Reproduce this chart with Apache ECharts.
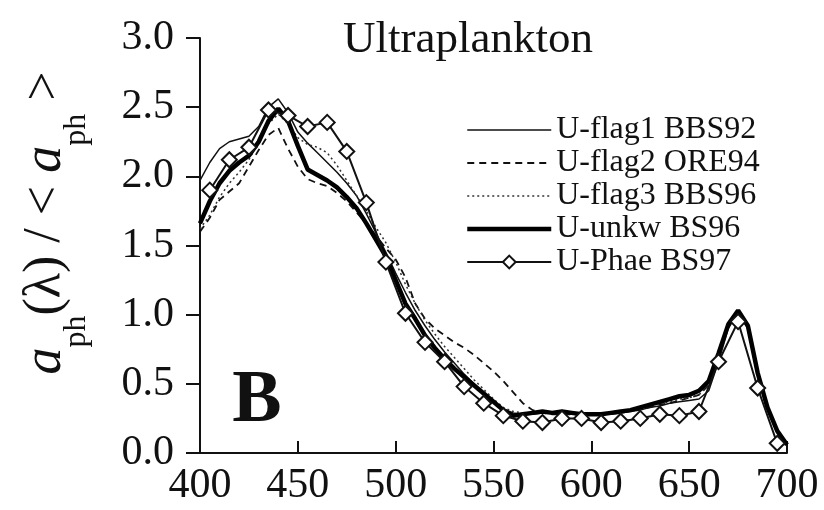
<!DOCTYPE html>
<html>
<head>
<meta charset="utf-8">
<script src="https://cdn.jsdelivr.net/npm/echarts@6/dist/echarts.min.js"></script>
<style>
html,body{margin:0;padding:0;background:#fff;}
#chart{width:824px;height:510px;}
</style>
</head>
<body>
<div id="chart"></div>
<script>
const wavelengths = [400,405,410,415,420,425,430,435,440,445,450,455,460,465,470,475,480,485,490,495,500,505,510,515,520,525,530,535,540,545,550,555,560,565,570,575,580,585,590,595,600,605,610,615,620,625,630,635,640,645,650,655,660,665,670,675,680,685,690,695,700];
const flag1 = [1.97,2.10,2.20,2.25,2.27,2.29,2.36,2.50,2.56,2.46,2.32,2.24,2.17,2.10,2.03,1.95,1.86,1.73,1.59,1.45,1.30,1.16,1.03,0.92,0.82,0.73,0.65,0.57,0.50,0.43,0.37,0.32,0.29,0.28,0.28,0.29,0.29,0.29,0.28,0.28,0.28,0.28,0.28,0.29,0.30,0.31,0.33,0.34,0.36,0.37,0.38,0.39,0.45,0.66,0.90,1.02,0.93,0.60,0.34,0.17,0.07];
const flag2 = [1.60,1.70,1.83,1.89,1.95,2.07,2.19,2.30,2.35,2.20,2.07,1.98,1.95,1.93,1.88,1.82,1.74,1.66,1.57,1.48,1.40,1.27,1.08,0.97,0.90,0.85,0.80,0.76,0.71,0.65,0.59,0.52,0.44,0.36,0.31,0.29,0.28,0.28,0.28,0.28,0.28,0.28,0.29,0.30,0.31,0.32,0.33,0.35,0.36,0.38,0.40,0.42,0.49,0.70,0.93,1.02,0.90,0.56,0.32,0.15,0.06];
const flag3 = [1.62,1.72,1.85,1.95,2.03,2.12,2.25,2.38,2.45,2.38,2.28,2.23,2.21,2.17,2.08,1.97,1.86,1.75,1.63,1.52,1.38,1.22,1.08,0.96,0.86,0.77,0.69,0.61,0.53,0.46,0.39,0.33,0.30,0.29,0.29,0.29,0.29,0.29,0.28,0.28,0.28,0.28,0.29,0.30,0.31,0.32,0.34,0.36,0.37,0.39,0.40,0.42,0.50,0.70,0.92,1.01,0.90,0.57,0.33,0.16,0.06];
const unkw = [1.66,1.82,1.95,2.04,2.10,2.15,2.25,2.40,2.49,2.40,2.22,2.05,2.01,1.97,1.92,1.85,1.77,1.66,1.54,1.42,1.25,1.08,0.97,0.85,0.76,0.68,0.61,0.55,0.49,0.43,0.37,0.31,0.27,0.28,0.29,0.30,0.29,0.30,0.29,0.28,0.28,0.28,0.29,0.30,0.31,0.33,0.35,0.37,0.39,0.41,0.42,0.45,0.52,0.72,0.93,1.03,0.92,0.58,0.33,0.16,0.06];
const phaeWavelengths = [405,415,425,435,445,455,465,475,485,495,505,515,525,535,545,555,565,575,585,595,605,615,625,635,645,655,665,675,685,695];
const phae = [1.90,2.12,2.21,2.48,2.44,2.36,2.39,2.18,1.81,1.38,1.01,0.80,0.66,0.48,0.36,0.27,0.23,0.22,0.25,0.25,0.22,0.23,0.25,0.28,0.27,0.30,0.66,0.95,0.47,0.07];
const seriesNames = ['U-flag1 BBS92','U-flag2 ORE94','U-flag3 BBS96','U-unkw BS96','U-Phae BS97'];
const titleText = 'Ultraplankton';
const panelLetter = 'B';

const pair = (xs, ys) => xs.map((x, i) => [x, ys[i]]);
const FONT = 'Liberation Serif';
const hiddenSymbol = {color: 'rgba(0,0,0,0)', borderColor: 'rgba(0,0,0,0)', borderWidth: 0};

const chart = echarts.init(document.getElementById('chart'), null, {renderer: 'canvas'});
chart.setOption({
  animation: false,
  backgroundColor: '#fff',
  grid: {left: 200, right: 37, top: 38, bottom: 57, containLabel: false},
  xAxis: {
    type: 'value', min: 400, max: 700, interval: 50,
    axisLine: {show: true, lineStyle: {color: '#111', width: 2}},
    axisTick: {show: true, inside: true, length: 12, lineStyle: {color: '#111', width: 2}},
    axisLabel: {color: '#111', fontFamily: FONT, fontSize: 42, margin: 12},
    splitLine: {show: false}
  },
  yAxis: {
    type: 'value', min: 0, max: 3, interval: 0.5,
    axisLine: {show: true, lineStyle: {color: '#111', width: 2}},
    axisTick: {show: true, inside: false, length: 14, lineStyle: {color: '#111', width: 2}},
    axisLabel: {color: '#111', fontFamily: FONT, fontSize: 42, margin: 26, formatter: v => v.toFixed(1)},
    splitLine: {show: false}
  },
  legend: {
    orient: 'vertical', left: 460, top: 109,
    itemWidth: 84, itemHeight: 16, itemGap: 1,
    textStyle: {color: '#111', fontFamily: FONT, fontSize: 32, lineHeight: 32},
    data: [
      {name: seriesNames[0], itemStyle: hiddenSymbol, lineStyle: {width: 1.5}},
      {name: seriesNames[1], itemStyle: hiddenSymbol, lineStyle: {width: 1.8}},
      {name: seriesNames[2], itemStyle: hiddenSymbol, lineStyle: {width: 1.5}},
      {name: seriesNames[3], itemStyle: hiddenSymbol, lineStyle: {width: 4.5}},
      {name: seriesNames[4], lineStyle: {width: 2}}
    ]
  },
  series: [
    {name: seriesNames[0], type: 'line', symbol: 'none', data: pair(wavelengths, flag1),
     itemStyle: {color: '#111'}, lineStyle: {color: '#111', width: 1.5}, z: 2},
    {name: seriesNames[1], type: 'line', symbol: 'none', data: pair(wavelengths, flag2),
     itemStyle: {color: '#111'}, lineStyle: {color: '#111', width: 1.8, type: [7, 5]}, z: 2},
    {name: seriesNames[2], type: 'line', symbol: 'none', data: pair(wavelengths, flag3),
     itemStyle: {color: '#333'}, lineStyle: {color: '#333', width: 1.5, type: [2, 3]}, z: 2},
    {name: seriesNames[3], type: 'line', symbol: 'none', data: pair(wavelengths, unkw),
     itemStyle: {color: '#000'}, lineStyle: {color: '#000', width: 4.5}, z: 3},
    {name: seriesNames[4], type: 'line', symbol: 'diamond', symbolSize: 15, showAllSymbol: true,
     data: pair(phaeWavelengths, phae),
     lineStyle: {color: '#111', width: 2},
     itemStyle: {color: '#fff', borderColor: '#111', borderWidth: 2}, z: 4}
  ],
  graphic: [
    {type: 'text', x: 468, y: 40, z: 10,
     style: {text: titleText, font: '45px "Liberation Serif"', fill: '#111', align: 'center', verticalAlign: 'middle'}},
    {type: 'text', x: 257, y: 402, z: 10,
     style: {text: panelLetter, font: 'bold 74px "Liberation Serif"', fill: '#111', align: 'center', verticalAlign: 'middle'}},
    {type: 'text', x: 46, y: 223, rotation: Math.PI / 2, z: 10,
     style: {
       text: '{ai|a}{sub|ph}{n|(λ) / < }{ai|a}{sub|ph}{n| >}',
       align: 'center', verticalAlign: 'middle', fill: '#111',
       rich: {
         ai: {fontFamily: FONT, fontStyle: 'italic', fontSize: 54, lineHeight: 54, verticalAlign: 'top', fill: '#111'},
         n: {fontFamily: FONT, fontSize: 52, lineHeight: 54, verticalAlign: 'top', fill: '#111'},
         sub: {fontFamily: FONT, fontSize: 32, lineHeight: 32, padding: [42, 0, 0, 0], verticalAlign: 'top', fill: '#111'}
       }
     }}
  ]
});
</script>
</body>
</html>
